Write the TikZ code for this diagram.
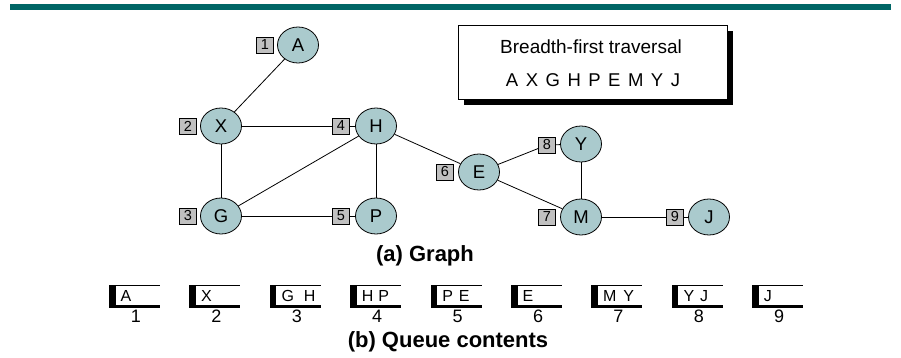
\documentclass[tikz,border=0pt]{standalone}
\usepackage{fontspec}
\setmainfont{Liberation Sans}
\usetikzlibrary{shapes.geometric}
\definecolor{teal1}{RGB}{0,102,102}
\definecolor{nodecol}{RGB}{170,202,205}
\definecolor{lblcol}{RGB}{192,192,192}
\newcommand{\qbox}[4]{%
  \fill (#1,285) rectangle (#1+6.5,308);
  \draw[line width=0.8pt] (#1+6,285.4) -- (#1+51,285.4);
  \draw[line width=2.6pt] (#1+6,306.7) -- (#1+51,306.7);
  \node[qtext,anchor=west] (q#4) at (#1+11.5,296) {#2};
  \node[qnum] (n#4) at (#1+27,316.5) {#3};
}
\begin{document}
\begin{tikzpicture}[x=1pt,y=-1pt,
  vtx/.style={ellipse,draw,line width=0.8pt,fill=nodecol,minimum width=41pt,minimum height=36pt,inner sep=0pt,font=\fontsize{18.5}{18.5}\selectfont},
  lbl/.style={rectangle,draw,line width=0.8pt,fill=lblcol,minimum width=17pt,minimum height=16pt,inner sep=0pt,font=\fontsize{14.5}{14.5}\selectfont},
  edgeline/.style={line width=0.8pt},
  qtext/.style={inner sep=0pt,font=\fontsize{16}{16}\selectfont},
  qnum/.style={inner sep=0pt,font=\fontsize{18}{18}\selectfont},
  captxt/.style={inner sep=0pt,font=\bfseries\fontsize{22}{22}\selectfont}]
\useasboundingbox (0,0) rectangle (901,358);
% top bar
\fill[teal1] (10,4) rectangle (891,10.5);
% traversal box
\fill[black] (463.5,31.5) rectangle (732.5,105.5);
\draw[line width=1pt,fill=white] (458,26) rectangle (727,100);
\node[inner sep=0pt,font=\fontsize{19}{19}\selectfont] (bt) at (591,47) {Breadth-first traversal};
\node[inner sep=0pt,font=\fontsize{18.5}{18.5}\selectfont] (seq) at (593,80) {A\hspace{7.5pt}X\hspace{7.5pt}G\hspace{7.5pt}H\hspace{7.5pt}P\hspace{7.5pt}E\hspace{7.5pt}M\hspace{7.5pt}Y\hspace{7.5pt}J};
% label boxes
\node[lbl] (l1) at (265,45) {1};
\node[lbl] (l2) at (188,126) {2};
\node[lbl] (l4) at (341,126) {4};
\node[lbl] (l3) at (188,216) {3};
\node[lbl] (l5) at (341,216) {5};
\node[lbl] (l6) at (445,172) {6};
\node[lbl] (l8) at (547,145) {8};
\node[lbl] (l7) at (547,217) {7};
\node[lbl] (l9) at (675,217) {9};
% vertices
\node[vtx] (A) at (298,45) {A};
\node[vtx] (X) at (221,126) {X};
\node[vtx] (H) at (376,126) {H};
\node[vtx] (G) at (221,216) {G};
\node[vtx] (P) at (376,216) {P};
\node[vtx] (E) at (479,172) {E};
\node[vtx] (Y) at (581,144) {Y};
\node[vtx] (M) at (581,217) {M};
\node[vtx] (J) at (709,217) {J};
% edges
\draw[edgeline] (A) -- (X);
\draw[edgeline] (X) -- (l4);
\draw[edgeline] (l4) -- (H);
\draw[edgeline] (X) -- (G);
\draw[edgeline] (H) -- (G);
\draw[edgeline] (H) -- (P);
\draw[edgeline] (G) -- (l5);
\draw[edgeline] (l5) -- (P);
\draw[edgeline] (H) -- (E);
\draw[edgeline] (E) -- (l8);
\draw[edgeline] (l8) -- (Y);
\draw[edgeline] (E) -- (M);
\draw[edgeline] (Y) -- (M);
\draw[edgeline] (M) -- (l9);
\draw[edgeline] (l9) -- (J);
\node[captxt] (capa) at (425,256) {(a) Graph};
% queue
\qbox{109}{A}{1}{1}
\qbox{189.4}{X}{2}{2}
\qbox{269.8}{G\hspace{10pt}H}{3}{3}
\qbox{350.2}{H\hspace{5pt}P}{4}{4}
\qbox{430.6}{P\hspace{6pt}E}{5}{5}
\qbox{511}{E}{6}{6}
\qbox{591.4}{M\hspace{7pt}Y}{7}{7}
\qbox{671.8}{Y\hspace{6pt}J}{8}{8}
\qbox{752.2}{J}{9}{9}
\node[captxt] (capb) at (448,342) {(b) Queue contents};
\end{tikzpicture}
\end{document}
